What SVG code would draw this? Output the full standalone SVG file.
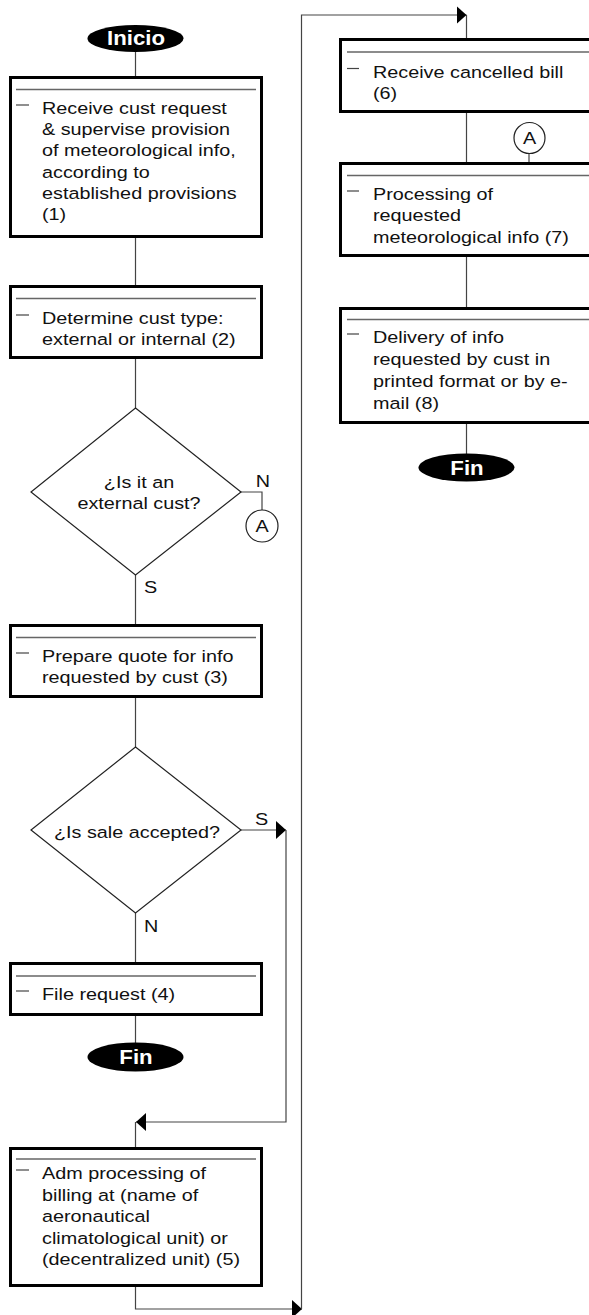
<svg xmlns="http://www.w3.org/2000/svg" width="589" height="1315" viewBox="0 0 589 1315">
<style>
.box{fill:#fff;stroke:#000;stroke-width:3}
.sep{stroke:#666;stroke-width:1.3;fill:none}
.dash{stroke:#444;stroke-width:1.2}
.t{font-family:"Liberation Sans",Arial,sans-serif;font-size:16.5px;fill:#111}
.m{text-anchor:middle}
.term{fill:#000}
.tt{font-family:"Liberation Sans",Arial,sans-serif;font-size:19.5px;font-weight:bold;fill:#fff;text-anchor:middle}
.c{fill:none;stroke:#444;stroke-width:1.2}
.circ{fill:#fff;stroke:#222;stroke-width:1.2}
</style>
<defs>
<marker id="ah" markerUnits="userSpaceOnUse" markerWidth="12" markerHeight="20" refX="10" refY="9" orient="auto">
<path d="M0,0 L10,9 L0,18 Z" fill="#000"/>
</marker>
</defs>
<g id="connectors">
<path class="c" d="M135.5,52 V77"/>
<path class="c" d="M135.5,238 V286"/>
<path class="c" d="M135.5,358 V408"/>
<path class="c" d="M241,492 H262 V510"/>
<path class="c" d="M135.5,575 V625"/>
<path class="c" d="M135.5,697 V747"/>
<path class="c" d="M241,830 H286" marker-end="url(#ah)"/>
<path class="c" d="M286,830 V1122 H136" marker-end="url(#ah)"/>
<path class="c" d="M135.5,1122 V1148"/>
<path class="c" d="M135.5,913 V963"/>
<path class="c" d="M135.5,1015 V1043"/>
<path class="c" d="M135.5,1286 V1309 H302" marker-end="url(#ah)"/>
<path class="c" d="M301.5,1309 V15 H466.5" marker-end="url(#ah)"/>
<path class="c" d="M466.5,15 V39"/>
<path class="c" d="M466.5,112 V163"/>
<path class="c" d="M529,153.5 V163"/>
<path class="c" d="M466.5,256 V308"/>
<path class="c" d="M466.5,423 V454"/>
</g>
<g id="inicio">
<ellipse class="term" cx="135.5" cy="38.5" rx="48" ry="13.5"/>
<text class="tt" transform="translate(136,45) scale(1.14,1)">Inicio</text>
</g>
<g id="box1">
<rect class="box" x="10.5" y="77.5" width="251" height="159"/>
<line class="sep" x1="16" y1="89.5" x2="256" y2="89.5"/>
<line class="dash" x1="16" y1="105" x2="29" y2="105"/>
<text class="t" transform="translate(42,114) scale(1.2,1)"><tspan x="0">Receive cust request</tspan><tspan x="0" dy="21.2">&amp; supervise provision</tspan><tspan x="0" dy="21.2">of meteorological info,</tspan><tspan x="0" dy="21.2">according to</tspan><tspan x="0" dy="21.2">established provisions</tspan><tspan x="0" dy="21.2">(1)</tspan></text>
</g>
<g id="box2">
<rect class="box" x="10.5" y="286.5" width="251" height="71"/>
<line class="sep" x1="16" y1="298.5" x2="256" y2="298.5"/>
<line class="dash" x1="16" y1="315" x2="29" y2="315"/>
<text class="t" transform="translate(42,324) scale(1.2,1)"><tspan x="0">Determine cust type:</tspan><tspan x="0" dy="21.5">external or internal (2)</tspan></text>
</g>
<g id="dec1">
<polygon points="135.5,408 241,492 135.5,575 31,492" fill="#fff" stroke="#222" stroke-width="1.2"/>
<text class="t m" transform="translate(139,488) scale(1.2,1)"><tspan x="0">¿Is it an</tspan><tspan x="0" dy="21.5">external cust?</tspan></text>
<text class="t m" transform="translate(263,487) scale(1.2,1)">N</text>
<text class="t" transform="translate(144,593) scale(1.2,1)">S</text>
</g>
<g id="connA1">
<circle class="circ" cx="262" cy="526" r="16"/>
<text class="t m" transform="translate(262,532) scale(1.2,1)">A</text>
</g>
<g id="box3">
<rect class="box" x="10.5" y="625.5" width="251" height="71"/>
<line class="sep" x1="16" y1="637.5" x2="256" y2="637.5"/>
<line class="dash" x1="16" y1="653" x2="29" y2="653"/>
<text class="t" transform="translate(42,662) scale(1.2,1)"><tspan x="0">Prepare quote for info</tspan><tspan x="0" dy="21.5">requested by cust (3)</tspan></text>
</g>
<g id="dec2">
<polygon points="135.5,747 241,830 135.5,913 31,830" fill="#fff" stroke="#222" stroke-width="1.2"/>
<text class="t m" transform="translate(137,838) scale(1.2,1)">¿Is sale accepted?</text>
<text class="t" transform="translate(255,825) scale(1.2,1)">S</text>
<text class="t" transform="translate(144,932) scale(1.2,1)">N</text>
</g>
<g id="box4">
<rect class="box" x="10.5" y="963.5" width="251" height="51"/>
<line class="sep" x1="16" y1="976" x2="256" y2="976"/>
<line class="dash" x1="16" y1="991" x2="29" y2="991"/>
<text class="t" transform="translate(42,1000) scale(1.2,1)">File request (4)</text>
</g>
<g id="fin1">
<ellipse class="term" cx="135.5" cy="1057" rx="48" ry="14.5"/>
<text class="tt" transform="translate(136,1064) scale(1.14,1)">Fin</text>
</g>
<g id="box5">
<rect class="box" x="10.5" y="1148.5" width="251" height="137"/>
<line class="sep" x1="16" y1="1159" x2="256" y2="1159"/>
<line class="dash" x1="16" y1="1170" x2="29" y2="1170"/>
<text class="t" transform="translate(42,1179) scale(1.2,1)"><tspan x="0">Adm processing of</tspan><tspan x="0" dy="22">billing at (name of</tspan><tspan x="0" dy="21.5">aeronautical</tspan><tspan x="0" dy="21.5">climatological unit) or</tspan><tspan x="0" dy="21.5">(decentralized unit) (5)</tspan></text>
</g>
<g id="box6">
<rect class="box" x="340.5" y="39.5" width="251" height="72"/>
<line class="sep" x1="347" y1="52" x2="589" y2="52"/>
<line class="dash" x1="347" y1="68.5" x2="359" y2="68.5"/>
<text class="t" transform="translate(373,78) scale(1.2,1)"><tspan x="0">Receive cancelled bill</tspan><tspan x="0" dy="21.5">(6)</tspan></text>
</g>
<g id="connA2">
<circle class="circ" cx="529.5" cy="138" r="15.5"/>
<text class="t m" transform="translate(529.5,144) scale(1.2,1)">A</text>
</g>
<g id="box7">
<rect class="box" x="340.5" y="163.5" width="251" height="92"/>
<line class="sep" x1="347" y1="175.5" x2="589" y2="175.5"/>
<line class="dash" x1="347" y1="191" x2="359" y2="191"/>
<text class="t" transform="translate(373,200) scale(1.2,1)"><tspan x="0">Processing of</tspan><tspan x="0" dy="21.5">requested</tspan><tspan x="0" dy="21.5">meteorological info (7)</tspan></text>
</g>
<g id="box8">
<rect class="box" x="340.5" y="308.5" width="251" height="114"/>
<line class="sep" x1="347" y1="319.5" x2="589" y2="319.5"/>
<line class="dash" x1="347" y1="334" x2="359" y2="334"/>
<text class="t" transform="translate(373,343) scale(1.2,1)"><tspan x="0">Delivery of info</tspan><tspan x="0" dy="22">requested by cust in</tspan><tspan x="0" dy="22">printed format or by e-</tspan><tspan x="0" dy="22">mail (8)</tspan></text>
</g>
<g id="fin2">
<ellipse class="term" cx="466.5" cy="467.5" rx="48" ry="14"/>
<text class="tt" transform="translate(467,474.5) scale(1.14,1)">Fin</text>
</g>
</svg>
